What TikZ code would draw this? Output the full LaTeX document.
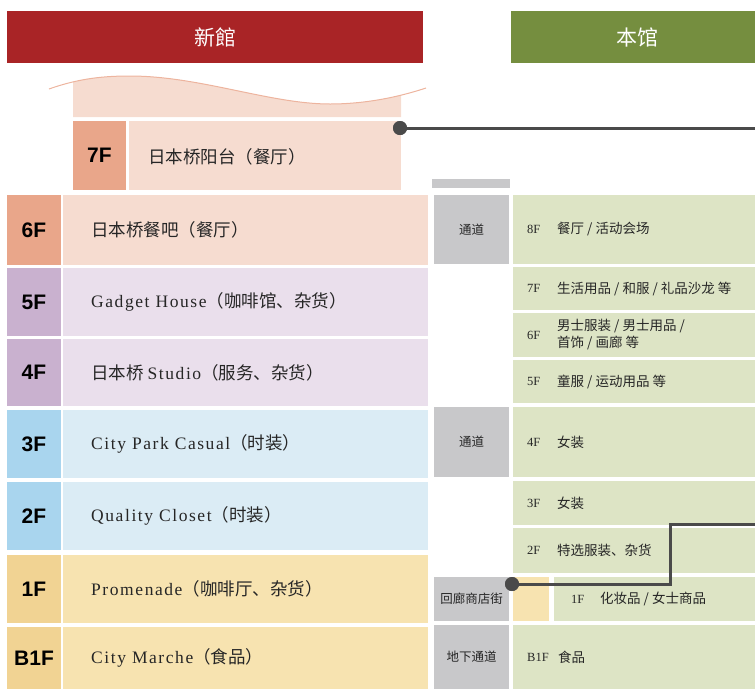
\documentclass[tikz,border=0pt]{standalone}
\usepackage{fontspec}
\setmainfont{Liberation Serif}
\newfontfamily\zhfont{Noto Sans CJK SC}
\newfontfamily\enfont[LetterSpace=9]{Liberation Serif}
\newfontfamily\flfont{Liberation Sans}

\definecolor{newred}{HTML}{A92426}
\definecolor{mainolive}{HTML}{758E3F}
\definecolor{salmon}{HTML}{E9A68A}
\definecolor{salmonbg}{HTML}{F6DCD0}
\definecolor{salmonline}{HTML}{EDB49E}
\definecolor{lilac}{HTML}{C9B1CF}
\definecolor{lilacbg}{HTML}{EADFEC}
\definecolor{skyblue}{HTML}{A9D5EE}
\definecolor{skybg}{HTML}{DBECF5}
\definecolor{sand}{HTML}{F1D393}
\definecolor{sandbg}{HTML}{F7E3B0}
\definecolor{passgray}{HTML}{C8C8CA}
\definecolor{olivebg}{HTML}{DDE4C5}
\definecolor{linkgray}{HTML}{4A4A4A}

\tikzset{
  hdr/.style={text=white, inner sep=0pt, font=\zhfont\fontsize{21}{21}\selectfont},
  fl/.style={inner sep=0pt, text=black, font=\flfont\bfseries\fontsize{21}{21}\selectfont},
  ltxt/.style={anchor=west, inner sep=0pt, text=black!85, font=\zhfont\fontsize{17.5}{19}\selectfont},
  rnum/.style={anchor=west, inner sep=0pt, text=black!85, font=\fontsize{12.5}{14}\selectfont},
  rtxt/.style={anchor=west, inner sep=0pt, align=left, text=black!85, font=\zhfont\fontsize{13.5}{17}\selectfont},
  gtxt/.style={inner sep=0pt, text=black!85, font=\zhfont\fontsize{12.5}{14}\selectfont},
  link/.style={draw=linkgray, line width=3pt},
  dot/.style={circle, fill=linkgray, minimum size=14pt, inner sep=0pt}
}

\begin{document}
\begin{tikzpicture}[x=1pt, y=-1pt]
	\useasboundingbox (0,0) rectangle (755,689);

	\fill[newred] (7,11) rectangle (423,63);
	\node[hdr] (hnew) at (215,37) {新館};
	\fill[mainolive] (511,11) rectangle (755,63);
	\node[hdr] (hmain) at (637,37) {本馆};

	\begin{scope}
		\clip (73,60) rectangle (401,117);
		\fill[salmonbg] (49,89) .. controls (80,78) and (105,76) .. (130,76) .. controls (200,76) and (270,104) .. (330,104) .. controls (370,104) and (405,95) .. (426,88) -- (426,117) -- (49,117) -- cycle;
	\end{scope}
	\draw[salmonline, line width=1pt] (49,89) .. controls (80,78) and (105,76) .. (130,76) .. controls (200,76) and (270,104) .. (330,104) .. controls (370,104) and (405,95) .. (426,88);

	\fill[salmon] (73,121) rectangle (126,190);
	\fill[salmonbg] (129,121) rectangle (401,190);
	\node[fl] (l7F) at (99.5,155.5) {7F};
	\node[ltxt] (t7F) at (148,157) {日本桥阳台（餐厅）};

	\foreach \n/\ya/\yb/\lc/\bc/\lbl in {6F/195/265/salmon/salmonbg/{日本桥餐吧（餐厅）},
		5F/268/336/lilac/lilacbg/{{\enfont Gadget House}（咖啡馆、杂货）},
		4F/339/406/lilac/lilacbg/{日本桥 {\enfont Studio}（服务、杂货）},
		3F/410/478/skyblue/skybg/{{\enfont City Park Casual}（时装）},
		2F/482/550/skyblue/skybg/{{\enfont Quality Closet}（时装）},
		1F/555/623/sand/sandbg/{{\enfont Promenade}（咖啡厅、杂货）},
		B1F/627/689/sand/sandbg/{{\enfont City Marche}（食品）}}
	{
		\fill[\lc] (7,\ya) rectangle (61,\yb);
		\fill[\bc] (63,\ya) rectangle (428,\yb);
		\node[fl] (l\n) at (34,{(\ya+\yb)/2}) {\n};
		\node[ltxt] (t\n) at (91,{(\ya+\yb)/2}) {\lbl};
	}

	\fill[passgray] (432,179) rectangle (510,188);
	\foreach \ya/\yb/\lbl [count=\i] in {195/264/通道, 407/477/通道, 577/621/回廊商店街, 625/689/地下通道}
	{
		\fill[passgray] (434,\ya) rectangle (509,\yb);
		\node[gtxt] (g\i) at (471.5,{(\ya+\yb)/2}) {\lbl};
	}

	\foreach \n/\ya/\yb/\lbl in {8F/195/264/{餐厅 / 活动会场},
		7F/267/310/{生活用品 / 和服 / 礼品沙龙 等},
		6F/313/357/{男士服装 / 男士用品 /\\首饰 / 画廊 等},
		5F/360/403/{童服 / 运动用品 等},
		4F/407/477/{女装},
		3F/481/525/{女装},
		2F/528/573/{特选服装、杂货}}
	{
		\fill[olivebg] (513,\ya) rectangle (755,\yb);
		\node[rnum] (r\n) at (527,{(\ya+\yb)/2}) {\n};
		\node[rtxt] (s\n) at (557,{(\ya+\yb)/2}) {\lbl};
	}
	\fill[sandbg] (513,577) rectangle (549,621);
	\fill[olivebg] (554,577) rectangle (755,621);
	\node[rnum] (r1F) at (571,599) {1F};
	\node[rtxt] (s1F) at (600,599) {化妆品 / 女士商品};
	\fill[olivebg] (513,625) rectangle (755,689);
	\node[rnum] (rB1F) at (527,657) {B1F};
	\node[rtxt] (sB1F) at (558,657) {食品};

	\coordinate (endA) at (755,128);
	\coordinate (bendB) at (670,584);
	\coordinate (endB) at (755,524);
	\node[dot] (dotA) at (400,128) {};
	\node[dot] (dotB) at (512,584) {};
	\draw[link] (dotA.center) -- (endA);
	\draw[link] (dotB.center) -- (bendB) |- (endB);
	\node[dot] at (dotA) {};
	\node[dot] at (dotB) {};
\end{tikzpicture}
\end{document}
